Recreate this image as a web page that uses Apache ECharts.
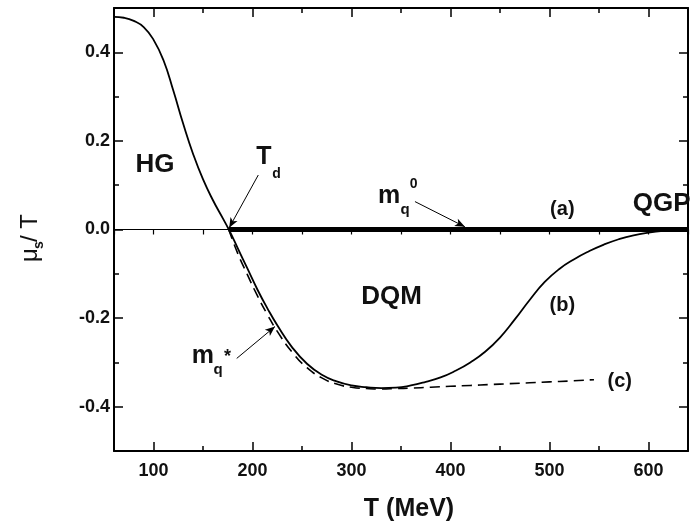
<!DOCTYPE html>
<html><head><meta charset="utf-8">
<script src="https://cdn.jsdelivr.net/npm/echarts@6.0.0/dist/echarts.min.js"></script>
<style>html,body{margin:0;padding:0;background:#fff}#c{width:690px;height:525px}</style>
</head><body><div id="c"></div>
<script>
// ---- data ----
const curveB_T = [60, 70, 80, 90, 100, 110, 120, 130, 140, 150, 160, 170, 176, 185, 195, 205, 215, 225, 240, 255, 270, 285, 300, 315, 330, 345, 360, 375, 390, 405, 420, 435, 450, 465, 480, 495, 510, 525, 540, 555, 570, 585, 600, 615, 630, 640];
const curveB_V = [0.480, 0.478, 0.471, 0.457, 0.428, 0.382, 0.313, 0.238, 0.170, 0.113, 0.066, 0.025, 0.0, -0.042, -0.089, -0.136, -0.178, -0.216, -0.266, -0.303, -0.328, -0.343, -0.352, -0.356, -0.358, -0.357, -0.352, -0.344, -0.334, -0.319, -0.300, -0.276, -0.244, -0.203, -0.159, -0.119, -0.089, -0.067, -0.049, -0.034, -0.022, -0.013, -0.007, -0.003, -0.001, 0.0];
const curveC_T = [176, 185, 195, 205, 215, 225, 240, 255, 270, 285, 300, 315, 330, 345, 360, 380, 400, 420, 440, 460, 480, 500, 520, 545];
const curveC_V = [0.0, -0.054, -0.103, -0.150, -0.192, -0.230, -0.277, -0.312, -0.335, -0.349, -0.356, -0.359, -0.360, -0.359, -0.358, -0.356, -0.354, -0.352, -0.350, -0.348, -0.346, -0.344, -0.342, -0.339];
const lineA_T = [176, 640];
const lineA_V = [0, 0];
const xTickLabels = [100, 200, 300, 400, 500, 600];
const yTickLabels = [-0.4, -0.2, 0.0, 0.2, 0.4];

// ---- annotations (data coordinates) ----
const arrows = [
  [[205.8, 0.123], [176.4, 0.004]],   // T_d
  [[364.1, 0.063], [414.6, 0.006]],   // m_q^0
  [[184.0, -0.291], [222.7, -0.219]]  // m_q^*
];
const plainLabels = [
  {t: 'HG', T: 101.4, v: 0.147, size: 26, align: 'center'},
  {t: 'DQM', T: 340.5, v: -0.151, size: 26, align: 'center'},
  {t: 'QGP', T: 584.2, v: 0.058, size: 26, align: 'left'},
  {t: '(a)', T: 513, v: 0.046, size: 20, align: 'center'},
  {t: '(b)', T: 513, v: -0.171, size: 20, align: 'center'},
  {t: '(c)', T: 571, v: -0.342, size: 20, align: 'center'}
];
const compoundLabels = [
  {T: 211.5, v: 0.163, parts: [{t: 'T', dx: 0, dy: 0, size: 25}, {t: 'd', dx: 12.5, dy: 17, size: 14}]},
  {T: 337.9, v: 0.0756, parts: [{t: 'm', dx: 0, dy: 0, size: 25}, {t: 'q', dx: 16, dy: 14, size: 15}, {t: '0', dx: 24.5, dy: -12, size: 14}]},
  {T: 149.9, v: -0.2856, parts: [{t: 'm', dx: 0, dy: 0, size: 25}, {t: 'q', dx: 15, dy: 14, size: 15}, {t: '*', dx: 24.5, dy: 1, size: 18}]}
];

const FONT = "'Liberation Sans', Arial, Helvetica, sans-serif";
const zip = (a, b) => a.map((x, i) => [x, b[i]]);

const chart = echarts.init(document.getElementById('c'), null, {renderer: 'canvas'});

const baseX = {type: 'value', min: 60, max: 640, splitLine: {show: false}};
const baseY = {type: 'value', min: -0.5, max: 0.5, splitLine: {show: false}};

const option = {
  animation: false,
  backgroundColor: '#fff',
  grid: {left: 114, top: 8, right: 2, bottom: 74, containLabel: false, outerBoundsMode: 'none'},
  xAxis: [
    Object.assign({}, baseX, {
      position: 'bottom',
      axisLine: {onZero: false, lineStyle: {color: '#000', width: 2}},
      axisTick: {inside: true, length: 9, lineStyle: {color: '#000', width: 1.5}},
      minorTick: {show: true, splitNumber: 2, length: 5, lineStyle: {color: '#000', width: 1.5}},
      axisLabel: {
        margin: 11, color: '#111', fontSize: 18, fontWeight: 'bold', fontFamily: FONT,
        formatter: v => xTickLabels.indexOf(v) >= 0 ? String(v) : ''
      },
      name: 'T (MeV)', nameLocation: 'middle', nameGap: 46,
      nameTextStyle: {color: '#111', fontSize: 25, fontWeight: 'bold', fontFamily: FONT, padding: [0, 0, 0, 16]}
    }),
    Object.assign({}, baseX, {
      position: 'top',
      axisLine: {onZero: false, lineStyle: {color: '#000', width: 2}},
      axisTick: {inside: true, length: 9, lineStyle: {color: '#000', width: 1.5}},
      minorTick: {show: true, splitNumber: 2, length: 5, lineStyle: {color: '#000', width: 1.5}},
      axisLabel: {show: false}
    }),
    Object.assign({}, baseX, {
      position: 'bottom',
      axisLine: {onZero: true, lineStyle: {color: '#000', width: 1.2}},
      axisTick: {inside: false, length: 5, lineStyle: {color: '#000', width: 1.2}},
      minorTick: {show: true, splitNumber: 2, length: 5, lineStyle: {color: '#000', width: 1.2}},
      axisLabel: {show: false}
    })
  ],
  yAxis: [
    Object.assign({}, baseY, {
      position: 'left',
      axisLine: {onZero: false, lineStyle: {color: '#000', width: 2}},
      axisTick: {inside: true, length: 9, lineStyle: {color: '#000', width: 1.5}},
      minorTick: {show: true, splitNumber: 2, length: 5, lineStyle: {color: '#000', width: 1.5}},
      axisLabel: {
        margin: 4, color: '#111', fontSize: 18, fontWeight: 'bold', fontFamily: FONT,
        formatter: v => yTickLabels.some(t => Math.abs(t - v) < 1e-9) ? v.toFixed(1) : ''
      }
    }),
    Object.assign({}, baseY, {
      position: 'right',
      axisLine: {onZero: false, lineStyle: {color: '#000', width: 2}},
      axisTick: {inside: true, length: 9, lineStyle: {color: '#000', width: 1.5}},
      minorTick: {show: true, splitNumber: 2, length: 5, lineStyle: {color: '#000', width: 1.5}},
      axisLabel: {show: false}
    })
  ],
  series: [
    {
      name: 'a', type: 'line', xAxisIndex: 0, yAxisIndex: 0,
      data: zip(lineA_T, lineA_V), showSymbol: false, symbol: 'none',
      lineStyle: {color: '#000', width: 5}, z: 3,
      markLine: {
        silent: true, symbol: ['none', 'arrow'], symbolSize: [6, 10],
        label: {show: false},
        lineStyle: {color: '#000', width: 1, type: 'solid'},
        emphasis: {disabled: true},
        data: arrows.map(a => [{coord: a[0]}, {coord: a[1]}])
      }
    },
    {
      name: 'b', type: 'line', xAxisIndex: 0, yAxisIndex: 0,
      data: zip(curveB_T, curveB_V), showSymbol: false, symbol: 'none',
      smooth: 0.5,
      lineStyle: {color: '#000', width: 1.8}, z: 4
    },
    {
      name: 'c', type: 'line', xAxisIndex: 0, yAxisIndex: 0,
      data: zip(curveC_T, curveC_V), showSymbol: false, symbol: 'none',
      smooth: 0.5,
      lineStyle: {color: '#000', width: 1.6, type: [10, 6]}, z: 4
    }
  ]
};
chart.setOption(option);

const px = (T, v) => chart.convertToPixel({xAxisIndex: 0, yAxisIndex: 0}, [T, v]);
const graphics = [];
plainLabels.forEach(l => {
  const p = px(l.T, l.v);
  graphics.push({type: 'text', x: p[0], y: p[1], z: 100,
    style: {text: l.t, fill: '#111', font: 'bold ' + l.size + 'px ' + FONT, align: l.align, verticalAlign: 'middle'}});
});
compoundLabels.forEach(c => {
  const p = px(c.T, c.v);
  c.parts.forEach(part => {
    graphics.push({type: 'text', x: p[0] + part.dx, y: p[1] + part.dy, z: 100,
      style: {text: part.t, fill: '#111', font: 'bold ' + part.size + 'px ' + FONT, align: 'center', verticalAlign: 'middle'}});
  });
});
// y-axis name (rotated)
graphics.push({
  type: 'group', x: 30, y: 262, rotation: Math.PI / 2, z: 100,
  children: [
    {type: 'text', x: 0, y: 0, style: {text: 'μ', fill: '#111', font: '24px ' + FONT, align: 'left', verticalAlign: 'middle'}},
    {type: 'text', x: 13, y: 9, style: {text: 's', fill: '#111', font: 'bold 14px ' + FONT, align: 'left', verticalAlign: 'middle'}},
    {type: 'text', x: 20, y: 0, style: {text: '/ T', fill: '#111', font: '24px ' + FONT, align: 'left', verticalAlign: 'middle'}}
  ]
});
chart.setOption({graphic: graphics});
</script>
</body></html>
